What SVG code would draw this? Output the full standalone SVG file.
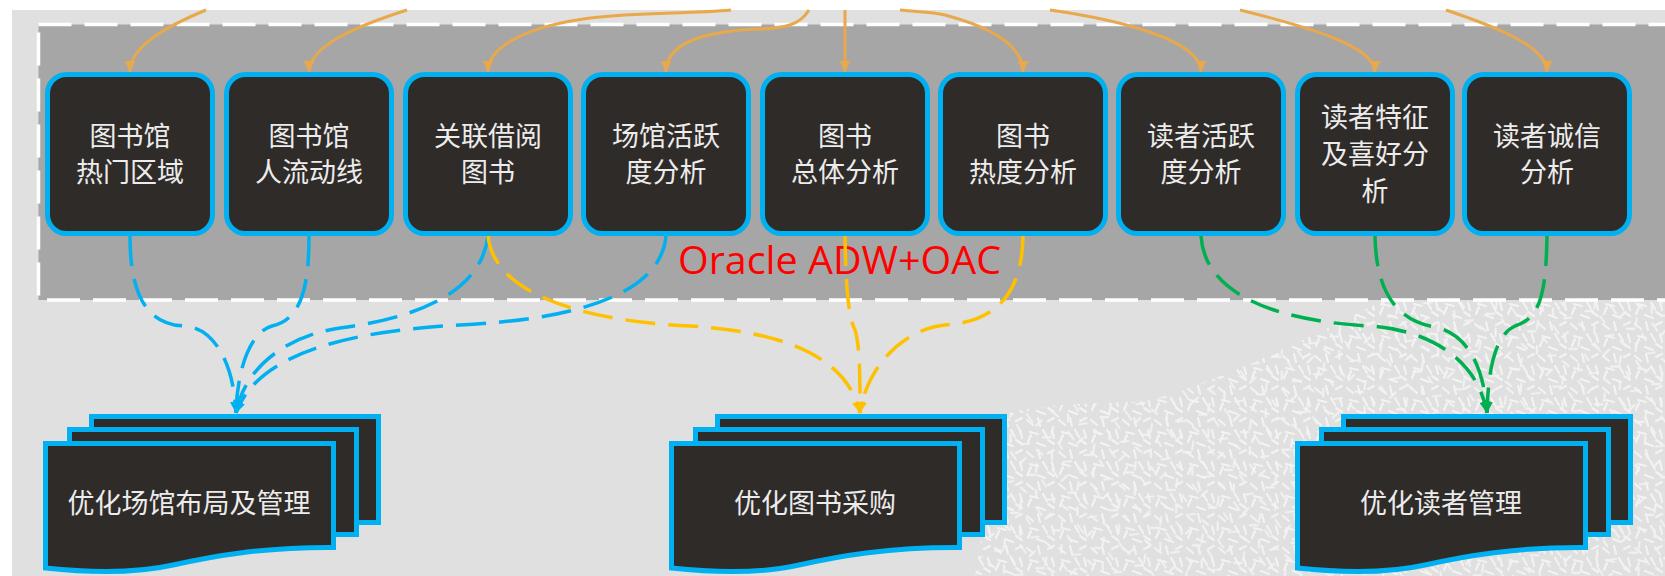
<svg xmlns="http://www.w3.org/2000/svg" width="1665" height="576" viewBox="0 0 1665 576">
<style>
.node rect{fill:#2f2b28;stroke:#00b0f0;stroke-width:5}
.doc rect,.doc path{fill:#2f2b28;stroke:#00b0f0;stroke-width:5}
.nt{font-family:"Noto Sans CJK SC","Noto Sans",sans-serif;font-size:27px;fill:#ececec;text-anchor:middle;dominant-baseline:central}
.orange{fill:none;stroke:#e8a84c;stroke-width:3;marker-end:url(#ao)}
.blue{fill:none;stroke:#00b0f0;stroke-width:3.5;stroke-dasharray:30 13;marker-end:url(#ab)}
.yellow{fill:none;stroke:#ffc000;stroke-width:3.5;stroke-dasharray:30 13;marker-end:url(#ay)}
.green{fill:none;stroke:#00b050;stroke-width:3.5;stroke-dasharray:30 13;marker-end:url(#ag)}
</style>
<defs>
<marker id="ao" viewBox="0 0 10 10" refX="10" refY="5" markerWidth="11" markerHeight="11" markerUnits="userSpaceOnUse" orient="auto"><path d="M0,0 L10,5 L0,10 Z" fill="#e8a84c"/></marker>
<marker id="ab" viewBox="0 0 10 10" refX="10" refY="5" markerWidth="11" markerHeight="11" markerUnits="userSpaceOnUse" orient="auto"><path d="M0,0 L10,5 L0,10 Z" fill="#00b0f0"/></marker>
<marker id="ay" viewBox="0 0 10 10" refX="10" refY="5" markerWidth="11" markerHeight="11" markerUnits="userSpaceOnUse" orient="auto"><path d="M0,0 L10,5 L0,10 Z" fill="#ffc000"/></marker>
<marker id="ag" viewBox="0 0 10 10" refX="10" refY="5" markerWidth="11" markerHeight="11" markerUnits="userSpaceOnUse" orient="auto"><path d="M0,0 L10,5 L0,10 Z" fill="#00b050"/></marker>
<pattern id="tex1" width="32" height="32" patternUnits="userSpaceOnUse">
<path d="M3 4 l6 5 M14 2 l2 8 M24 5 l6 -3 M6 16 l8 2 M19 14 l4 7 M28 14 l2 8 M4 26 l3 -7 M13 27 l8 3 M24 24 l6 4" stroke="#ffffff" stroke-width="2.2" stroke-linecap="round" fill="none"/>
</pattern>
<pattern id="tex2" width="45" height="41" patternUnits="userSpaceOnUse" patternTransform="rotate(23)">
<path d="M5 9 l7 2 M20 5 l3 7 M34 10 l7 -4 M11 22 l2 8 M27 21 l8 5 M40 28 l3 -7 M6 36 l7 -3 M22 35 l6 4" stroke="#ffffff" stroke-width="2" stroke-linecap="round" fill="none"/>
</pattern>
<clipPath id="texclip"><path d="M975,576 C985,520 995,440 1010,413 C1060,400 1120,405 1150,400 C1230,378 1320,332 1380,302 L1665,302 L1665,576 Z"/></clipPath>
</defs>
<rect x="0" y="0" width="1665" height="576" fill="#ffffff"/>
<rect x="12" y="10" width="1653" height="566" fill="#dfe0df"/>
<g clip-path="url(#texclip)" opacity="0.6">
<rect x="900" y="290" width="765" height="286" fill="url(#tex1)"/>
<rect x="900" y="290" width="765" height="286" fill="url(#tex2)"/>
</g>
<rect x="38.5" y="24.5" width="1700" height="275.5" fill="#a6a6a6" stroke="#ffffff" stroke-width="3.5" stroke-dasharray="33 13"/>
<text x="678" y="274" font-family="'Open Sans','Liberation Sans',sans-serif" font-size="38" fill="#ff0000" textLength="323" lengthAdjust="spacingAndGlyphs">Oracle ADW+OAC</text>

<g id="node1" class="node"><rect x="47.5" y="74.5" width="165" height="159" rx="19"/><text class="nt" x="130" y="134">图书馆</text><text class="nt" x="130" y="170">热门区域</text></g>
<g id="node2" class="node"><rect x="226.5" y="74.5" width="165" height="159" rx="19"/><text class="nt" x="309" y="134">图书馆</text><text class="nt" x="309" y="170">人流动线</text></g>
<g id="node3" class="node"><rect x="405.5" y="74.5" width="165" height="159" rx="19"/><text class="nt" x="488" y="134">关联借阅</text><text class="nt" x="488" y="170">图书</text></g>
<g id="node4" class="node"><rect x="583.5" y="74.5" width="165" height="159" rx="19"/><text class="nt" x="666" y="134">场馆活跃</text><text class="nt" x="666" y="170">度分析</text></g>
<g id="node5" class="node"><rect x="762.5" y="74.5" width="165" height="159" rx="19"/><text class="nt" x="845" y="134">图书</text><text class="nt" x="845" y="170">总体分析</text></g>
<g id="node6" class="node"><rect x="940.5" y="74.5" width="165" height="159" rx="19"/><text class="nt" x="1023" y="134">图书</text><text class="nt" x="1023" y="170">热度分析</text></g>
<g id="node7" class="node"><rect x="1118.5" y="74.5" width="165" height="159" rx="19"/><text class="nt" x="1201" y="134">读者活跃</text><text class="nt" x="1201" y="170">度分析</text></g>
<g id="node8" class="node"><rect x="1297.5" y="74.5" width="155" height="159" rx="19"/><text class="nt" x="1375" y="115">读者特征</text><text class="nt" x="1375" y="152">及喜好分</text><text class="nt" x="1375" y="189">析</text></g>
<g id="node9" class="node"><rect x="1464.5" y="74.5" width="165" height="159" rx="19"/><text class="nt" x="1547" y="134">读者诚信</text><text class="nt" x="1547" y="170">分析</text></g>

<g id="doc1" class="doc">
<rect x="91.5" y="416.5" width="287" height="106"/>
<rect x="69.5" y="429.5" width="287" height="105"/>
<path d="M45.5,443.5 H333.5 V547.5 C263,547 213,556 173,565 C133,574 83,572 45.5,568 Z"/>
<text class="nt" x="189" y="501">优化场馆布局及管理</text>
</g>
<g id="doc2" class="doc">
<rect x="717.5" y="416.5" width="287" height="106"/>
<rect x="695.5" y="429.5" width="287" height="105"/>
<path d="M671.5,443.5 H959.5 V547.5 C889,547 839,556 799,565 C759,574 709,572 671.5,568 Z"/>
<text class="nt" x="815" y="501">优化图书采购</text>
</g>
<g id="doc3" class="doc">
<rect x="1343.5" y="416.5" width="287" height="106"/>
<rect x="1321.5" y="429.5" width="287" height="105"/>
<path d="M1297.5,443.5 H1585.5 V547.5 C1515,547 1465,556 1425,565 C1385,574 1335,572 1297.5,568 Z"/>
<text class="nt" x="1441" y="501">优化读者管理</text>
</g>

<g id="connectors">
<path class="orange" d="M206,10 C170,25 130,45 130,72"/>
<path class="orange" d="M407,10 C360,25 309,45 309,72"/>
<path class="orange" d="M731,10 C690,14 640,12 590,18 C530,26 488,45 488,72"/>
<path class="orange" d="M809,10 C800,25 785,28 760,29 C700,31 666,45 666,72"/>
<path class="orange" d="M845,10 L845,72"/>
<path class="orange" d="M900,10 C915,12 930,11 945,15 C990,27 1023,45 1023,72"/>
<path class="orange" d="M1050,10 C1120,20 1201,40 1201,72"/>
<path class="orange" d="M1240,10 C1300,25 1375,45 1375,72"/>
<path class="orange" d="M1446,10 C1490,25 1547,45 1547,72"/>

<path class="blue" d="M130,236 C130,300 150,325 185,326 C215,328 234,365 236,413"/>
<path class="blue" d="M309,236 C309,290 300,320 272,326 C250,332 237,370 236,413"/>
<path class="blue" d="M488,236 C480,300 400,320 340,328 C290,335 245,365 236,413"/>
<path class="blue" d="M666,236 C660,300 560,320 460,325 C330,332 255,360 236,413"/>

<path class="yellow" d="M488,236 C495,300 600,322 690,326 C790,332 848,360 860,413"/>
<path class="yellow" d="M845,236 C846,300 850,320 855,330 C860,345 860,380 860,413"/>
<path class="yellow" d="M1023,236 C1022,300 990,322 945,325 C900,330 866,370 860,413"/>

<path class="green" d="M1201,236 C1205,300 1290,322 1370,326 C1430,330 1478,360 1487,413"/>
<path class="green" d="M1375,236 C1376,290 1395,320 1435,327 C1470,335 1484,370 1487,413"/>
<path class="green" d="M1547,236 C1546,295 1540,318 1515,326 C1495,335 1488,370 1487,413"/>
</g>
</svg>
